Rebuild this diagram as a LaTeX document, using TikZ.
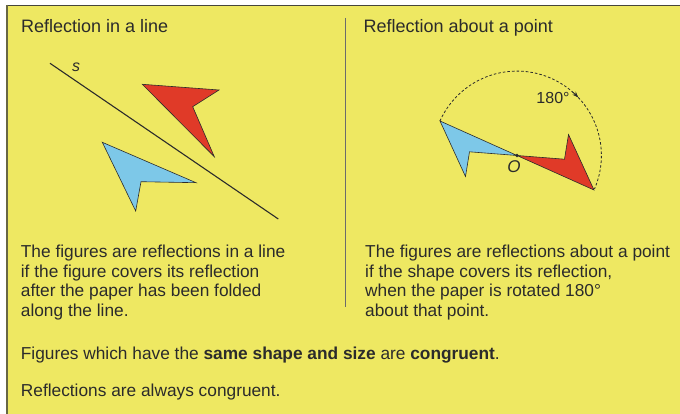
\documentclass[tikz,border=0pt]{standalone}
\usepackage{fontspec}
\setmainfont{Liberation Sans}
\usetikzlibrary{calc,arrows.meta}
\definecolor{paper}{RGB}{238,232,98}
\definecolor{ink}{RGB}{43,43,43}
\definecolor{redfig}{RGB}{224,58,40}
\definecolor{bluefig}{RGB}{125,200,232}
\definecolor{frame}{RGB}{70,70,60}
\tikzset{
  txt/.style={anchor=base west, inner sep=0pt, text=ink, font=\fontsize{17.3}{19.7}\selectfont},
  title/.style={anchor=base west, inner sep=0pt, text=ink, font=\fontsize{18}{20}\selectfont},
  lbl/.style={inner sep=0pt, text=ink, font=\fontsize{16}{18}\selectfont},
  redshape/.style={fill=redfig, draw=ink, line width=0.6pt, line join=miter},
  blueshape/.style={fill=bluefig, draw=ink, line width=0.6pt, line join=miter},
  mirror/.style={draw=ink, line width=1.1pt},
  turn/.style={draw=ink, line width=0.8pt, dash pattern=on 2.6pt off 2pt}
}
\begin{document}
\begin{tikzpicture}[x=1pt,y=-1pt]
\useasboundingbox (0,0) rectangle (680,414);
\fill[white] (0,0) rectangle (680,414);
\fill[paper] (6,5) rectangle (680,414);
% frame
\draw[frame, line width=1.6pt] (6,5.5) -- (680,5.5);
\draw[frame!80!paper, line width=2pt] (6.5,5) -- (6.5,414);
% divider
\coordinate (d1) at (345,18);
\coordinate (d2) at (345,307);
\draw[ink!70, line width=1pt] (d1) -- (d2);

% titles
\node[title] (t1) at (21,32.3) {Reflection in a line};
\node[title] (t2) at (363.5,32.3) {Reflection about a point};

% ---- left panel: reflection in a line
\coordinate (s1) at (50,63.3);
\coordinate (s2) at (278.3,219);
\draw[mirror] (s1) -- (s2);
\node[lbl, font=\fontsize{16}{18}\selectfont\itshape] (slab) at (76,67.5) {s};

\coordinate (r1) at (142.3,84.3);
\coordinate (r2) at (219,90);
\coordinate (r3) at (192.7,106.7);
\coordinate (r4) at (214.3,156.7);
\draw[redshape] (r1) -- (r2) -- (r3) -- (r4) -- cycle;

\coordinate (b1) at (102.3,142.3);
\coordinate (b2) at (196,182.7);
\coordinate (b3) at (141,181.7);
\coordinate (b4) at (135.7,211);
\draw[blueshape] (b1) -- (b2) -- (b3) -- (b4) -- cycle;

% ---- right panel: reflection about a point
\coordinate (O) at (517,155.5);
\coordinate (p1) at (440,121);
\coordinate (p2) at (469.5,151.8);
\coordinate (p3) at (465.5,176.5);
\coordinate (q1) at ($(O)!-1!(p1)$);
\coordinate (q2) at ($(O)!-1!(p2)$);
\coordinate (q3) at ($(O)!-1!(p3)$);
\draw[blueshape] (p1) -- (O) -- (p2) -- (p3) -- cycle;
\draw[redshape] (q1) -- (O) -- (q2) -- (q3) -- cycle;
\draw[turn] plot[domain=204.1:383.3, samples=90, smooth] ({517+84.4*cos(\x)},{155.5+84.4*sin(\x)});
\draw[ink, line width=0.8pt, -{Stealth[length=6pt,width=4.5pt]}] plot[domain=311:316.5, samples=6, smooth] ({517+84.4*cos(\x)},{155.5+84.4*sin(\x)});
\fill[ink] (O) circle[radius=1.9];
\node[lbl, font=\fontsize{17}{19}\selectfont\itshape] (olab) at (514,167) {O};
\node[lbl] (deg) at (553,97.5) {180°};

% ---- texts
\node[txt] (l1) at (20.7,257.5) {The figures are reflections in a line};
\node[txt] (l2) at (20.7,277.2) {if the figure covers its reflection};
\node[txt] (l3) at (20.7,296.9) {after the paper has been folded};
\node[txt] (l4) at (20.7,316.6) {along the line.};

\node[txt] (m1) at (365,257.5) {The figures are reflections about a point};
\node[txt] (m2) at (365,277.2) {if the shape covers its reflection,};
\node[txt] (m3) at (365,296.9) {when the paper is rotated 180°};
\node[txt] (m4) at (365,316.6) {about that point.};

\node[txt] (f1) at (20.7,359) {Figures which have the \textbf{same shape and size} are \textbf{congruent}.};
\node[txt] (f2) at (20.7,396) {Reflections are always congruent.};
\end{tikzpicture}
\end{document}
